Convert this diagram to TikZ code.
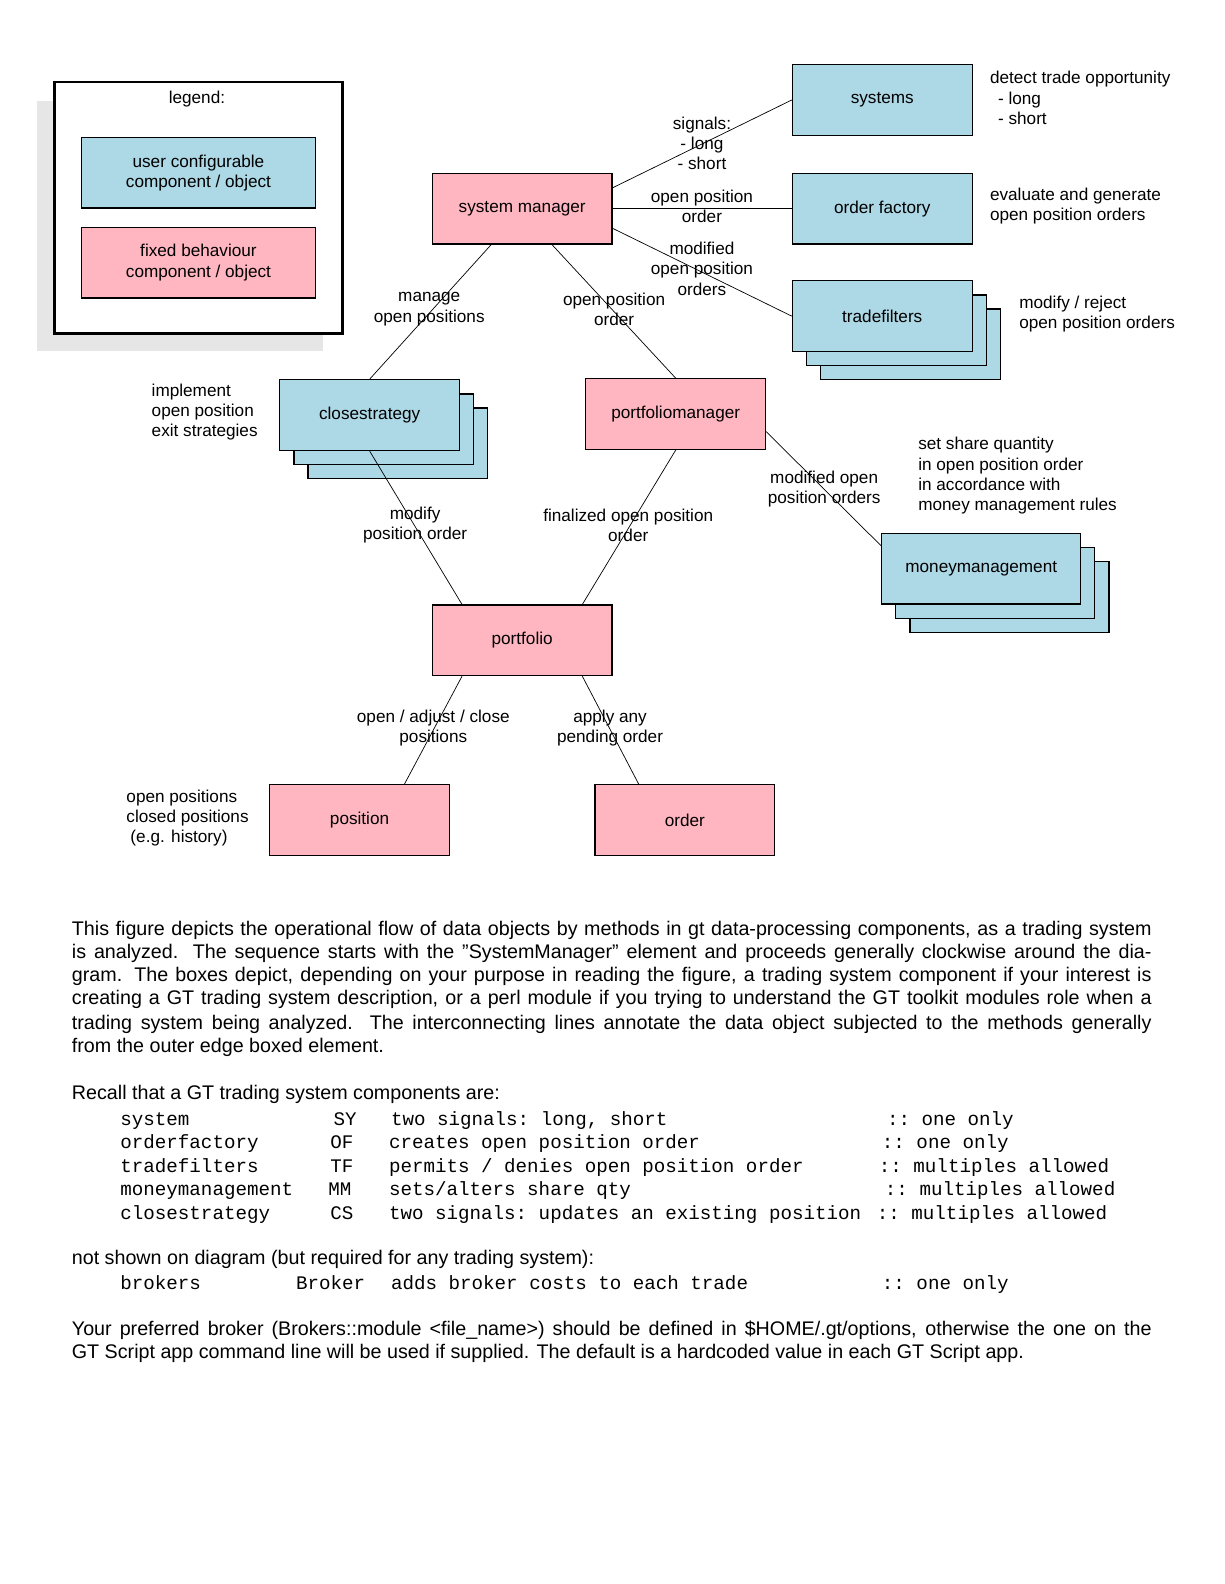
\documentclass[tikz,border=0pt]{standalone}
\usepackage{fontspec}
\setmainfont{Liberation Sans}
\setmonofont{Liberation Mono}
\usetikzlibrary{calc}
\definecolor{lblue}{RGB}{173,216,230}
\definecolor{lpink}{RGB}{255,182,193}
\definecolor{shadowgray}{RGB}{230,230,230}
\newcommand\dgfont{\fontsize{17}{20}\selectfont}
\newcommand\bdyfont{\fontsize{19.5}{23}\selectfont}
\newcommand\monofnt{\fontsize{19}{23}\selectfont\ttfamily}
\begin{document}
\begin{tikzpicture}[x=1pt,y=-1pt,
  box/.style={draw, line width=1.2pt, minimum width=178pt, minimum height=70pt, inner sep=0pt, font=\dgfont},
  cfg/.style={box, fill=lblue},
  fix/.style={box, fill=lpink},
  lbl/.style={font=\dgfont, align=center, inner sep=0pt},
  note/.style={font=\dgfont, align=left, inner sep=0pt, anchor=west},
  conn/.style={line width=0.7pt},
  bl/.style={anchor=base west, inner sep=0pt, font=\bdyfont},
  ml/.style={anchor=base west, inner sep=0pt, font=\monofnt}]
\useasboundingbox (0,0) rectangle (1211.9,1568.3);

% legend
\fill[shadowgray] (37,100) rectangle (320,348);
\node[draw, line width=2.5pt, fill=white, minimum width=285pt, minimum height=249pt, inner sep=0pt] (legend) at (196.5,205.5) {};
\node[lbl] (legendt) at (195,98) {legend:};
\node[cfg, minimum width=231pt, align=center] (lcfg) at (196.5,171) {user configurable\\component / object};
\node[fix, minimum width=231pt, align=center] (lfix) at (196.5,260) {fixed behaviour\\component / object};

% boxes
\node[cfg] (sys) at (873.5,99) {systems};
\node[fix] (sm) at (517,206.5) {system manager};
\node[cfg] (ofac) at (873.5,206.5) {order factory};
\node[cfg] (tf3) at (901.5,341) {};
\node[cfg] (tf2) at (887.5,327) {};
\node[cfg] (tf) at (873.5,313) {tradefilters};
\node[cfg] (cs3) at (394,439) {};
\node[cfg] (cs2) at (380,425) {};
\node[cfg] (cs) at (366,411) {closestrategy};
\node[fix] (pm) at (669,410) {portfoliomanager};
\node[cfg, minimum width=197pt] (mm3) at (999.5,591) {};
\node[cfg, minimum width=197pt] (mm2) at (985.5,577) {};
\node[cfg, minimum width=197pt] (mm) at (971.5,563) {moneymanagement};
\node[fix] (pf) at (517,634) {portfolio};
\node[fix] (pos) at (356,812) {position};
\node[fix] (ord) at (678,812) {order};

% connectors
\draw[conn] ($(sm.north east)+(0,15)$) -- (sys.west);
\draw[conn] (sm.east) -- (ofac.west);
\draw[conn] ($(sm.south east)+(0,-16)$) -- (tf.west);
\draw[conn] ($(sm.south west)+(59,0)$) -- (cs.north);
\draw[conn] ($(sm.south west)+(119,0)$) -- (pm.north);
\draw[conn] (cs.south) -- ($(pf.north west)+(30,0)$);
\draw[conn] (pm.south) -- ($(pf.north east)+(-30,0)$);
\draw[conn] ($(pm.north east)+(0,53)$) -- ($(mm.north west)+(0,13)$);
\draw[conn] ($(pf.south west)+(30,0)$) -- ($(pos.north west)+(134,0)$);
\draw[conn] ($(pf.south east)+(-30,0)$) -- ($(ord.north west)+(44,0)$);

% connector labels
\node[lbl] (l1) at (695,142) {signals:\\- long\\- short};
\node[lbl] (l2) at (695,204) {open position\\order};
\node[lbl] (l3) at (695,266) {modified\\open position\\orders};
\node[lbl] (l4) at (425,306) {manage\\open positions};
\node[lbl] (l5) at (608,306) {open position\\order};
\node[lbl] (l6) at (411,520) {modify\\position order};
\node[lbl] (l7) at (622,520) {finalized open position\\order};
\node[lbl] (l8) at (816,484) {modified open\\position orders};
\node[lbl] (l9) at (429,721) {open / adjust / close\\positions};
\node[lbl] (l10) at (604,721) {apply any\\pending order};

% annotations
\node[note] (n1) at (980,97) {detect trade opportunity\\\hspace*{8pt}- long\\\hspace*{8pt}- short};
\node[note] (n2) at (980,204) {evaluate and generate\\open position orders};
\node[note] (n3) at (1009,311) {modify / reject\\open position orders};
\node[note] (n4) at (150,408) {implement\\open position\\exit strategies};
\node[note] (n5) at (909,471) {set share quantity\\in open position order\\in accordance with\\money management rules};
\node[note] (n6) at (125,810) {open positions\\closed positions\\\hspace*{4pt}(e.g. history)};

% body text
\node[bl] (b1) at (71,926) {\hbox to 1069pt{This figure depicts the operational flow of data objects by methods in gt data-processing components, as a trading system}};
\node[bl] (b2) at (71,949) {\hbox to 1069pt{is analyzed.  The sequence starts with the ”SystemManager” element and proceeds generally clockwise around the dia-}};
\node[bl] (b3) at (71,972) {\hbox to 1069pt{gram.  The boxes depict, depending on your purpose in reading the figure, a trading system component if your interest is}};
\node[bl] (b4) at (71,995) {\hbox to 1069pt{creating a GT trading system description, or a perl module if you trying to understand the GT toolkit modules role when a}};
\node[bl] (b5) at (71,1019) {\hbox to 1069pt{trading system being analyzed.  The interconnecting lines annotate the data object subjected to the methods generally}};
\node[bl] (b6) at (71,1042) {from the outer edge boxed element.};

\node[bl] (b7) at (71,1089) {Recall that a GT trading system components are:};

\node[ml] (r1a) at (119,1114) {system};
\node[ml] (r1b) at (330,1114) {SY};
\node[ml] (r1c) at (387,1114) {two signals: long, short};
\node[ml] (r1d) at (878,1114) {:: one only};
\node[ml] (r2a) at (119,1137) {orderfactory};
\node[ml] (r2b) at (327,1137) {OF};
\node[ml] (r2c) at (385,1137) {creates open position order};
\node[ml] (r2d) at (873,1137) {:: one only};
\node[ml] (r3a) at (119,1161) {tradefilters};
\node[ml] (r3b) at (327,1161) {TF};
\node[ml] (r3c) at (385,1161) {permits / denies open position order};
\node[ml] (r3d) at (870,1161) {:: multiples allowed};
\node[ml] (r4a) at (119,1184) {moneymanagement};
\node[ml] (r4b) at (325,1184) {MM};
\node[ml] (r4c) at (385,1184) {sets/alters share qty};
\node[ml] (r4d) at (876,1184) {:: multiples allowed};
\node[ml] (r5a) at (119,1207) {closestrategy};
\node[ml] (r5b) at (327,1207) {CS};
\node[ml] (r5c) at (385,1207) {two signals: updates an existing position};
\node[ml] (r5d) at (868,1207) {:: multiples allowed};

\node[bl] (b8) at (71,1252) {not shown on diagram (but required for any trading system):};
\node[ml] (r6a) at (119,1277) {brokers};
\node[ml] (r6b) at (293,1277) {Broker};
\node[ml] (r6c) at (387,1277) {adds broker costs to each trade};
\node[ml] (r6d) at (873,1277) {:: one only};

\node[bl] (b9) at (71,1322) {\hbox to 1069pt{Your preferred broker (Brokers::module <file\_name>) should be defined in \$HOME/.gt/options, otherwise the one on the}};
\node[bl] (b10) at (71,1345) {GT Script app command line will be used if supplied.  The default is a hardcoded value in each GT Script app.};
\end{tikzpicture}
\end{document}
